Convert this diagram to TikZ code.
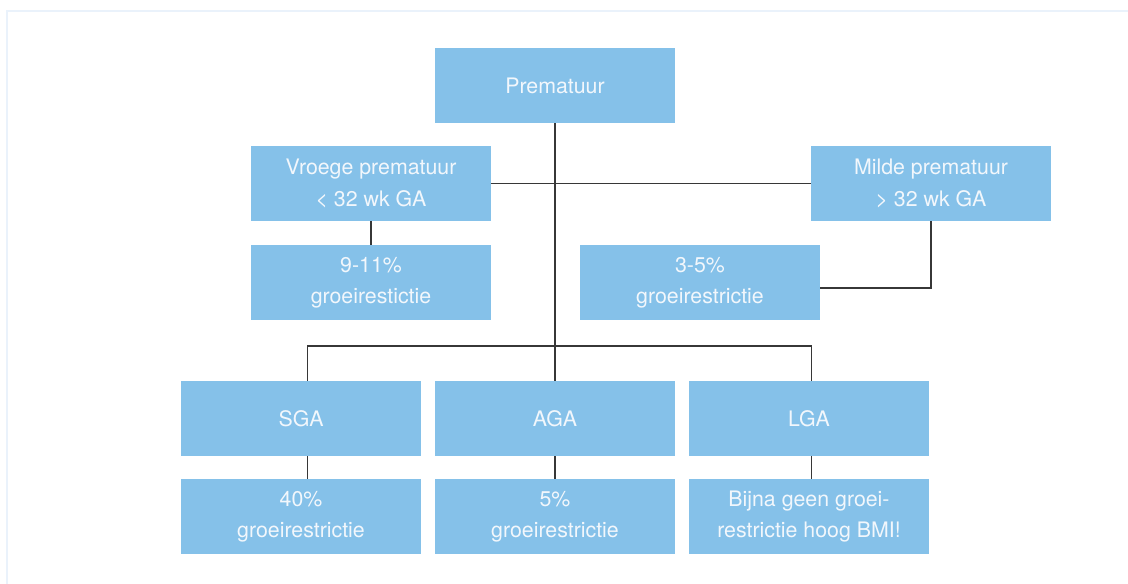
\documentclass[tikz,border=0pt]{standalone}
\usepackage{fontspec}
\setmainfont{TeX Gyre Heros}
\usepackage{xcolor}
\usetikzlibrary{positioning}
\definecolor{BoxBlue}{RGB}{133,193,233}
\definecolor{TextWhite}{RGB}{242,247,252}
\definecolor{FrameBlue}{RGB}{234,242,251}
\definecolor{LineGray}{RGB}{55,55,55}

\begin{document}
\begin{tikzpicture}[x=0.75pt,y=-0.75pt,
	blok/.style={fill=BoxBlue,text=TextWhite,inner sep=0pt,
		minimum width=180pt,minimum height=56.25pt,align=center,
		font=\fontsize{16pt}{23.5pt}\selectfont},
	lijn/.style={draw=LineGray,line width=1.1pt}]
		\useasboundingbox (0,0) rectangle (1128,583);
		
		% lichte kader
		\draw[FrameBlue,line width=2pt] (7,590)--(7,11)--(1135,11);
		
		% bovenste rij
		\node[blok] (prem) at (555,85.5) {Prematuur};
		\node[blok] (vroeg) at (371,183.5) {Vroege prematuur\\< 32 wk GA};
		\node[blok] (milde) at (931,183.5) {Milde prematuur\\> 32 wk GA};
		
		% groeirestrictie bij prematuur
		\node[blok] (p911) at (371,282.5) {9-11\%\\groeirestictie};
		\node[blok] (p35) at (700,282.5) {3-5\%\\groeirestrictie};
		
		% SGA / AGA / LGA
		\node[blok] (sga) at (301,418.5) {SGA};
		\node[blok] (aga) at (555,418.5) {AGA};
		\node[blok] (lga) at (809,418.5) {LGA};
		
		\node[blok] (p40) at (301,516.5) {40\%\\groeirestrictie};
		\node[blok] (p5) at (555,516.5) {5\%\\groeirestrictie};
		\node[blok] (bijna) at (809,516.5) {Bijna geen groei-\\restrictie hoog BMI!};
		
		% verbindingen
		\coordinate (bus) at (555,346);
		\draw[lijn] (prem.south)--(aga.north);
		\draw[lijn] (vroeg.east)--(milde.west);
		\draw[lijn] (vroeg.south)--(p911.north);
		\draw[lijn] (milde.south) |- ([yshift=-4pt]p35.east);
		\draw[lijn] ([xshift=5pt]sga.north) |- (bus) -| ([xshift=2pt]lga.north);
		\draw[lijn] ([xshift=5pt]sga.south)--([xshift=5pt]p40.north);
		\draw[lijn] (aga.south)--(p5.north);
		\draw[lijn] ([xshift=2pt]lga.south)--([xshift=2pt]bijna.north);
	\end{tikzpicture}
\end{document}
